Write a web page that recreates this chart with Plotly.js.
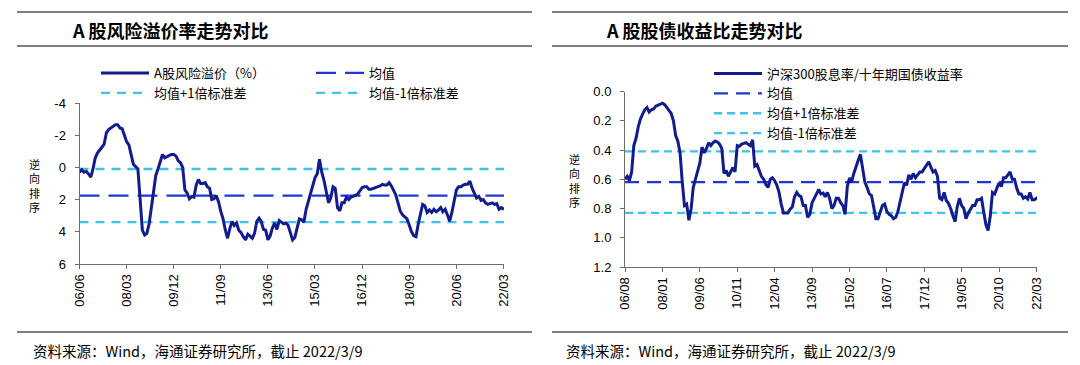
<!DOCTYPE html>
<html><head><meta charset="utf-8">
<script src="https://cdn.plot.ly/plotly-3.0.1.min.js"></script>
<style>html,body{margin:0;padding:0;background:#fff}#chart{width:1080px;height:365px}</style>
</head><body><div id="chart"></div>
<script>
// ---------- data ----------
const leftTitle = 'A 股风险溢价率走势对比';
const rightTitle = 'A 股股债收益比走势对比';
const sourceText = '资料来源：Wind，海通证券研究所，截止 2022/3/9';
const yTitleText = '逆<br>向<br>排<br>序';

const leftNames = ['A股风险溢价（%）', '均值', '均值+1倍标准差', '均值-1倍标准差'];
const rightNames = ['沪深300股息率/十年期国债收益率', '均值', '均值+1倍标准差', '均值-1倍标准差'];

const leftStart = [2006, 6];
const leftValues = [
 0.3,0.15,0.3,0.25,0.4,0.6,0.1,-0.6,-0.9,-1.05,
 -1.25,-1.45,-2.15,-2.35,-2.45,-2.55,-2.65,-2.65,-2.45,-2.4,
 -2.0,-1.6,-1.4,-0.7,-0.2,-0.05,0.1,2.0,3.9,4.2,
 4.1,3.5,2.4,1.5,0.5,0.1,-0.4,-0.8,-0.6,-0.7,
 -0.75,-0.8,-0.8,-0.7,-0.4,-0.3,0.0,1.4,1.6,1.95,
 1.8,1.85,1.1,0.75,1.0,1.0,0.95,1.2,1.3,2.0,
 1.95,1.75,2.15,2.75,3.2,3.9,4.4,3.8,3.35,3.6,
 3.45,3.9,4.05,4.3,4.5,4.15,4.3,4.4,4.1,3.35,
 3.15,3.35,3.85,3.9,4.5,4.25,3.75,3.45,3.85,3.3,
 3.4,3.5,3.45,3.6,4.05,4.5,4.35,3.7,3.2,3.25,
 3.4,2.6,2.1,1.6,1.15,0.65,0.4,-0.5,0.3,0.8,
 1.5,2.2,1.9,1.2,1.3,2.5,2.7,2.2,2.2,1.85,
 2.0,1.85,1.8,1.7,1.65,1.45,1.25,1.2,1.2,1.35,
 1.35,1.3,1.25,1.2,1.15,1.05,1.1,1.1,0.95,1.15,
 1.4,1.7,2.2,2.7,2.95,3.1,3.2,3.6,4.0,4.25,
 4.3,3.5,2.75,2.3,2.4,2.8,2.65,2.8,2.6,2.75,
 2.65,2.5,2.75,2.6,2.95,3.35,2.8,2.1,1.4,1.2,
 1.2,1.1,1.05,1.05,0.85,1.3,1.6,1.9,1.8,2.05,
 2.0,2.2,2.3,2.25,2.2,2.3,2.25,2.6,2.5
];
const leftLastDate = '2022-03-09';
const leftLastValue = 2.6;
const leftMean = 1.75, leftUpper = 0.1, leftLower = 3.4;
const leftTickVals = ['2006-06-01','2008-03-01','2009-12-01','2011-09-01','2013-06-01','2015-03-01','2016-12-01','2018-09-01','2020-06-01','2022-03-01'];
const leftTickText = ['06/06','08/03','09/12','11/09','13/06','15/03','16/12','18/09','20/06','22/03'];
const leftYTicks = [-4,-2,0,2,4,6];
const leftYTickText = ['-4','-2','0','2','4','6'];

const rightStart = [2006, 8];
const rightValues = [
 0.6,0.58,0.61,0.55,0.37,0.32,0.24,0.19,0.155,0.125,
 0.11,0.14,0.125,0.12,0.1,0.095,0.085,0.08,0.09,0.11,
 0.13,0.15,0.2,0.3,0.34,0.42,0.62,0.78,0.77,0.88,
 0.8,0.66,0.6,0.55,0.49,0.38,0.42,0.39,0.35,0.37,
 0.35,0.34,0.345,0.36,0.39,0.56,0.54,0.58,0.55,0.52,
 0.55,0.37,0.375,0.36,0.355,0.35,0.36,0.37,0.33,0.51,
 0.5,0.54,0.58,0.6,0.635,0.655,0.6,0.59,0.61,0.64,
 0.69,0.77,0.83,0.83,0.83,0.805,0.79,0.72,0.69,0.71,
 0.72,0.78,0.78,0.86,0.84,0.76,0.735,0.7,0.67,0.7,
 0.695,0.72,0.69,0.73,0.8,0.78,0.73,0.73,0.76,0.78,
 0.84,0.65,0.59,0.62,0.56,0.51,0.47,0.43,0.53,0.62,
 0.655,0.7,0.71,0.78,0.87,0.87,0.83,0.78,0.77,0.82,
 0.84,0.85,0.87,0.86,0.82,0.75,0.67,0.625,0.64,0.57,
 0.6,0.56,0.59,0.57,0.55,0.55,0.53,0.505,0.48,0.515,
 0.55,0.54,0.58,0.73,0.74,0.69,0.745,0.765,0.8,0.85,
 0.89,0.79,0.73,0.78,0.8,0.87,0.83,0.805,0.78,0.78,
 0.74,0.74,0.73,0.82,0.91,0.95,0.85,0.69,0.7,0.66,
 0.625,0.65,0.59,0.59,0.57,0.55,0.6,0.6,0.66,0.7,
 0.7,0.73,0.72,0.735,0.69,0.74,0.74,0.73
];
const rightLastDate = '2022-03-09';
const rightLastValue = 0.74;
const rightMean = 0.62, rightUpper = 0.41, rightLower = 0.83;
const rightTickVals = ['2006-08-01','2008-01-01','2009-06-01','2010-11-01','2012-04-01','2013-09-01','2015-02-01','2016-07-01','2017-12-01','2019-05-01','2020-10-01','2022-03-01'];
const rightTickText = ['06/08','08/01','09/06','10/11','12/04','13/09','15/02','16/07','17/12','19/05','20/10','22/03'];
const rightYTicks = [0,0.2,0.4,0.6,0.8,1.0,1.2];

// ---------- helpers ----------
function monthDates(start, n){
  const out = [];
  for(let i=0;i<n;i++){
    const t = start[0]*12 + (start[1]-1) + i;
    const y = Math.floor(t/12), m = t%12 + 1;
    out.push(y + '-' + String(m).padStart(2,'0') + '-01');
  }
  return out;
}
const leftX = monthDates(leftStart, leftValues.length).concat([leftLastDate]);
const leftY = leftValues.concat([leftLastValue]);
const rightX = monthDates(rightStart, rightValues.length).concat([rightLastDate]);
const rightY = rightValues.concat([rightLastValue]);
const leftSpan = [leftX[0], leftLastDate];
const rightSpan = [rightX[0], rightLastDate];

// ---------- styling ----------
const W = 1080, H = 365;
const px = v => v / W;
const py = v => 1 - v / H;
const NAVY = '#111c8e', BLUE = '#1f37d6', CYAN = '#3cc3f0';
const FONT = '"Liberation Sans", Arial, "Noto Sans CJK SC", sans-serif';
const CJK = '"Noto Sans CJK SC", "Liberation Sans", sans-serif';

function refLine(span, val, name, color, dash, xa, ya, legend, rank){
  return {x: span, y: [val, val], mode: 'lines', name: name, xaxis: xa, yaxis: ya,
    line: {color: color, width: 2.3, dash: dash}, legend: legend, legendrank: rank, hoverinfo: 'skip'};
}

const traces = [
  refLine(leftSpan, leftUpper, leftNames[2], CYAN, '9px,7px', 'x', 'y', 'legend2', 3),
  refLine(leftSpan, leftLower, leftNames[3], CYAN, '9px,7px', 'x', 'y', 'legend2', 4),
  refLine(leftSpan, leftMean, leftNames[1], BLUE, '20px,9px', 'x', 'y', 'legend', 2),
  {x: leftX, y: leftY, mode: 'lines', name: leftNames[0], xaxis: 'x', yaxis: 'y',
   line: {color: NAVY, width: 3}, legend: 'legend', legendrank: 1},
  refLine(rightSpan, rightUpper, rightNames[2], CYAN, '8px,5px', 'x2', 'y2', 'legend3', 3),
  refLine(rightSpan, rightLower, rightNames[3], CYAN, '8px,5px', 'x2', 'y2', 'legend3', 4),
  refLine(rightSpan, rightMean, rightNames[1], BLUE, '14px,8px', 'x2', 'y2', 'legend3', 2),
  {x: rightX, y: rightY, mode: 'lines', name: rightNames[0], xaxis: 'x2', yaxis: 'y2',
   line: {color: NAVY, width: 3}, legend: 'legend3', legendrank: 1}
];

const axX = {type: 'date', showgrid: false, zeroline: false, showline: true, linecolor: '#6e6e6e', linewidth: 1,
  ticks: 'outside', ticklen: 4, tickcolor: '#6e6e6e', tickangle: -90, tickmode: 'array',
  tickfont: {family: FONT, size: 13, color: '#000'}, fixedrange: true};
const axY = {showgrid: false, zeroline: false, showline: true, linecolor: '#6e6e6e', linewidth: 1,
  ticks: 'outside', ticklen: 4, tickcolor: '#6e6e6e', tickmode: 'array', ticklabelstandoff: 6,
  tickfont: {family: FONT, size: 13, color: '#000'}, fixedrange: true};

const legendBase = {bgcolor: 'rgba(0,0,0,0)', borderwidth: 0, itemwidth: 48,
  font: {family: CJK, size: 13, color: '#000'}, xanchor: 'left', yanchor: 'top', traceorder: 'normal', itemclick: false};

function hline(x0, x1, y){
  return {type: 'line', xref: 'paper', yref: 'paper', x0: px(x0), x1: px(x1), y0: py(y), y1: py(y),
    line: {color: '#555', width: 1.5}};
}
function textAnn(x, y, text, size, bold, family, extra){
  return Object.assign({xref: 'paper', yref: 'paper', x: px(x), y: py(y), text: bold ? '<b>' + text + '</b>' : text,
    showarrow: false, xanchor: 'left', yanchor: 'middle', font: {family: family, size: size, color: '#000'}}, extra || {});
}

const layout = {
  width: W, height: H, margin: {l: 0, r: 0, t: 0, b: 0},
  paper_bgcolor: '#fff', plot_bgcolor: '#fff', showlegend: true,
  xaxis: Object.assign({}, axX, {domain: [px(79.5), px(504)], anchor: 'y', range: leftSpan,
    tickvals: leftTickVals, ticktext: leftTickText}),
  yaxis: Object.assign({}, axY, {domain: [py(264), py(103)], anchor: 'x', range: [6, -4],
    tickvals: leftYTicks, ticktext: leftYTickText}),
  xaxis2: Object.assign({}, axX, {domain: [px(625), px(1037)], anchor: 'y2', range: rightSpan,
    tickvals: rightTickVals, ticktext: rightTickText}),
  yaxis2: Object.assign({}, axY, {domain: [py(267), py(91.5)], anchor: 'x2', range: [1.2, 0],
    tickvals: rightYTicks, tickformat: '.1f'}),
  legend: Object.assign({}, legendBase, {orientation: 'h', x: px(96), y: py(58), entrywidth: 152}),
  legend2: Object.assign({}, legendBase, {orientation: 'h', x: px(96), y: py(78), entrywidth: 152}),
  legend3: Object.assign({}, legendBase, {orientation: 'v', x: px(709), y: py(58.5), tracegroupgap: 0}),
  shapes: [
    hline(17, 532, 12), hline(17, 532, 46), hline(17, 532, 332),
    hline(552, 1068, 12), hline(552, 1068, 46), hline(552, 1068, 332)
  ],
  annotations: [
    textAnn(70, 30, leftTitle, 18, true, CJK),
    textAnn(604, 30, rightTitle, 18, true, CJK),
    textAnn(31, 350, sourceText, 14.5, false, CJK),
    textAnn(564, 350, sourceText, 14.5, false, CJK),
    textAnn(34, 185, yTitleText, 11, false, CJK, {xanchor: 'center', align: 'center'}),
    textAnn(574, 180, yTitleText, 11, false, CJK, {xanchor: 'center', align: 'center'})
  ]
};

Plotly.newPlot('chart', traces, layout, {displayModeBar: false, staticPlot: true});
</script>
</body></html>
